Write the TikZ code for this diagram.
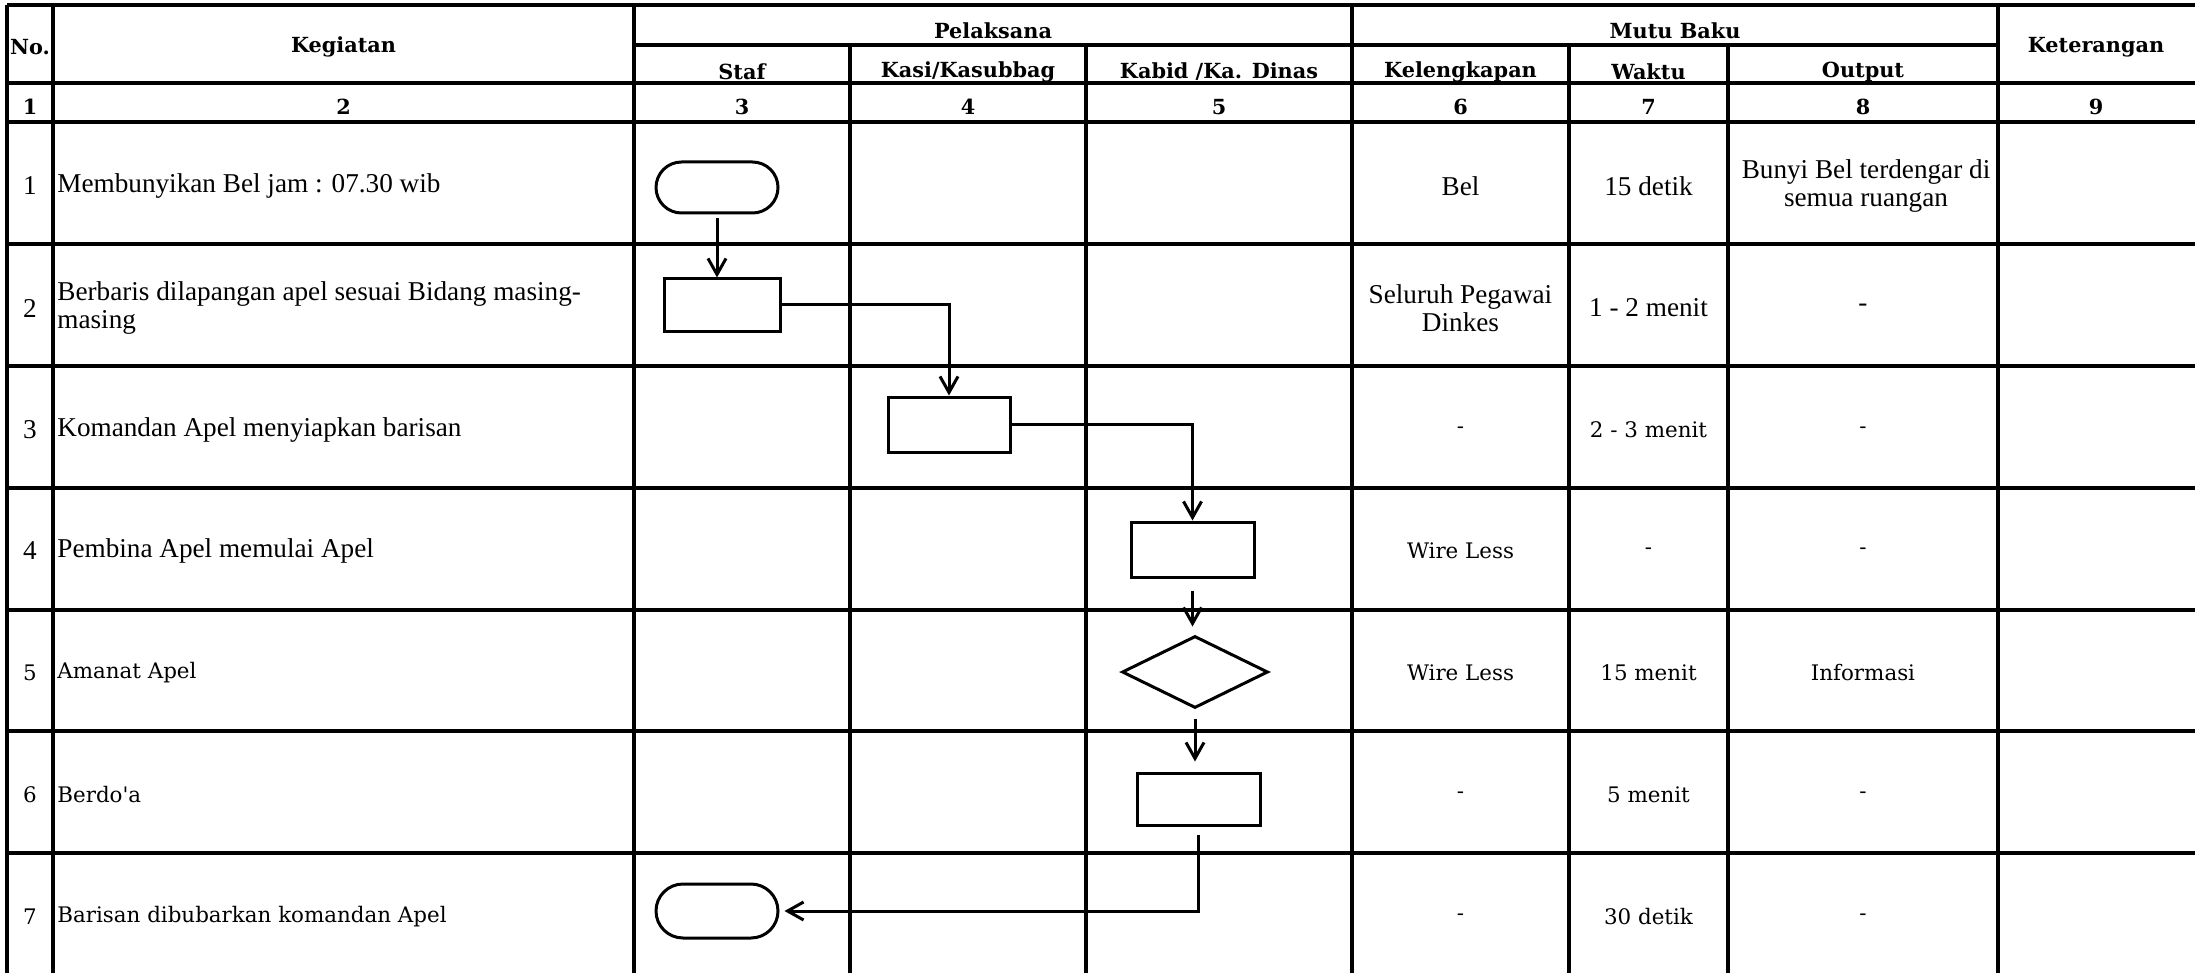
\documentclass[tikz,border=0pt]{standalone}
\usepackage{fontspec}
\setmainfont{DejaVu Serif}
\newfontfamily\cambf{Liberation Serif}
\newfontfamily\plainserif{DejaVu Serif}
\usetikzlibrary{arrows.meta,shapes.geometric}
\tikzset{
  grid/.style={line width=1.7pt},
  hd/.style={font=\bfseries\fontsize{10.4}{12}\selectfont, inner sep=0pt},
  ta/.style={font=\cambf\fontsize{13.6}{14}\selectfont, inner sep=0pt},
  tb/.style={font=\fontsize{10.7}{13}\selectfont, inner sep=0pt},
  shp/.style={draw, line width=1.5pt, inner sep=0pt},
  term/.style={shp, rectangle, rounded corners=12.75pt},
  proc/.style={shp, rectangle},
  dec/.style={shp, diamond},
  arr/.style={line width=1.5pt, -{Straight Barb[length=8pt,width=9pt]}},
}
\begin{document}
\begin{tikzpicture}[x=0.5pt,y=-0.5pt]
\useasboundingbox (0,0) rectangle (2195,973);
% table grid
\draw[grid] (7,5) -- (2195,5);
\draw[grid] (634,45) -- (1998,45);
\foreach \yy in {83,122,244,366,488,610,731,853} \draw[grid] (7,\yy) -- (2195,\yy);
\foreach \xx in {7,53,634,1352,1998} \draw[grid] (\xx,5) -- (\xx,975);
\foreach \xx in {850,1086,1569,1728} \draw[grid] (\xx,45) -- (\xx,975);
% header
\node[hd] (hNo) at (30,47) {No.};
\node[hd] (hKeg) at (343.5,47) {Kegiatan};
\node[hd] (hPel) at (993,31) {Pelaksana};
\node[hd] (hMutu) at (1675,31) {Mutu Baku};
\node[hd] (hKet) at (2096,47) {Keterangan};
\node[hd] (hStaf) at (742,72) {Staf};
\node[hd] (hKasi) at (968,72) {Kasi/Kasubbag};
\node[hd] (hKabid) at (1219,72) {Kabid /Ka. Dinas};
\node[hd] (hKel) at (1460.5,72) {Kelengkapan};
\node[hd] (hWak) at (1648.5,72) {Waktu};
\node[hd] (hOut) at (1863,72) {Output};
\node[hd] (c1) at (30,107) {1};
\node[hd] (c2) at (343.5,107) {2};
\node[hd] (c3) at (742,107) {3};
\node[hd] (c4) at (968,107) {4};
\node[hd] (c5) at (1219,107) {5};
\node[hd] (c6) at (1460.5,107) {6};
\node[hd] (c7) at (1648.5,107) {7};
\node[hd] (c8) at (1863,107) {8};
\node[hd] (c9) at (2096,107) {9};
% row numbers
\node[ta] (n1) at (30,186) {1};
\node[ta] (n2) at (30,308) {2};
\node[ta] (n3) at (30,430) {3};
\node[ta] (n4) at (30,551) {4};
\node[tb] (n5) at (30,673) {5};
\node[tb] (n6) at (30,795) {6};
\node[tb] (n7) at (30,917) {7};
% activities
\node[ta, anchor=west] (a1) at (57,186) {Membunyikan Bel jam : 07.30 wib};
\node[ta, anchor=west, align=left] (a2) at (57,308) {Berbaris dilapangan apel sesuai Bidang masing-\\masing};
\node[ta, anchor=west] (a3) at (57,430) {Komandan Apel menyiapkan barisan};
\node[ta, anchor=west] (a4) at (57,551) {Pembina Apel memulai Apel};
\node[tb, anchor=west] (a5) at (57,673) {Amanat Apel};
\node[tb, anchor=west] (a6) at (57,795) {\plainserif Berdo'a};
\node[tb, anchor=west] (a7) at (57,917) {Barisan dibubarkan komandan Apel};
% kelengkapan
\node[ta] (k1) at (1460.5,186) {Bel};
\node[ta, align=center] (k2) at (1460.5,308) {Seluruh Pegawai\\Dinkes};
\node[tb] (k3) at (1460.5,430) {-};
\node[tb] (k4) at (1460.5,551) {Wire Less};
\node[tb] (k5) at (1460.5,673) {Wire Less};
\node[tb] (k6) at (1460.5,795) {-};
\node[tb] (k7) at (1460.5,917) {-};
% waktu
\node[ta] (w1) at (1648.5,186) {15 detik};
\node[ta] (w2) at (1648.5,308) {1 - 2 menit};
\node[tb] (w3) at (1648.5,430) {2 - 3 menit};
\node[tb] (w4) at (1648.5,551) {-};
\node[tb] (w5) at (1648.5,673) {15 menit};
\node[tb] (w6) at (1648.5,795) {5 menit};
\node[tb] (w7) at (1648.5,917) {30 detik};
% output
\node[ta, align=center] (o1) at (1866,186) {Bunyi Bel terdengar di\\semua ruangan};
\node[ta] (o2) at (1863,308) {-};
\node[tb] (o3) at (1863,430) {-};
\node[tb] (o4) at (1863,551) {-};
\node[tb] (o5) at (1863,673) {Informasi};
\node[tb] (o6) at (1863,795) {-};
\node[tb] (o7) at (1863,917) {-};
% flow shapes
\node[term, minimum width=61pt, minimum height=25.5pt] (s1) at (717,187.5) {};
\node[proc, minimum width=58pt, minimum height=26pt] (r2) at (722,305) {};
\node[proc, minimum width=61pt, minimum height=27.5pt] (r3) at (949,424.5) {};
\node[proc, minimum width=61.5pt, minimum height=27.5pt] (r4) at (1192.5,549.5) {};
\node[dec, minimum width=73pt, minimum height=36pt] (d5) at (1195,672) {};
\node[proc, minimum width=61.5pt, minimum height=26pt] (r6) at (1198.5,799) {};
\node[term, rounded corners=13.5pt, minimum width=61pt, minimum height=27pt] (s7) at (717,911) {};
% connectors
\draw[arr, shorten <=2pt] (s1.south) -- (s1.south |- r2.north);
\draw[arr] (r2.east) -| (r3.north);
\draw[arr] (r3.east) -| (r4.north);
\draw[arr, shorten <=6pt, shorten >=4pt] (r4.south) -- (r4.south |- d5.north);
\draw[arr, shorten <=4.5pt, shorten >=5pt] (d5.south) -- (d5.south |- r6.north);
\draw[arr, shorten <=4pt, shorten >=2.5pt] (r6.south) |- (s7.east);
\end{tikzpicture}
\end{document}
